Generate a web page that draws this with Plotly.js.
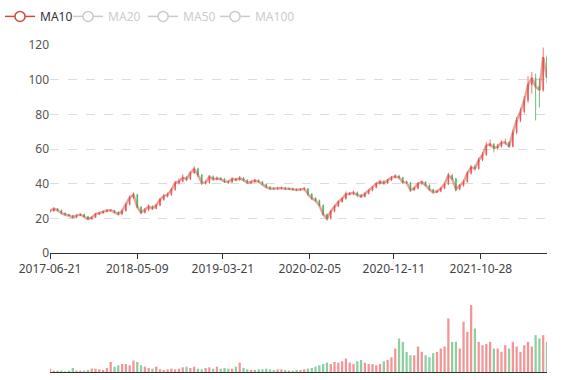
<!DOCTYPE html>
<html>
<head>
<meta charset="utf-8">
<script src="https://cdn.plot.ly/plotly-3.0.1.min.js"></script>
<style>html,body{margin:0;padding:0;background:#fff;}#chart{width:577px;height:380px;}</style>
</head>
<body>
<div id="chart"></div>
<script>
// Bi-weekly bars
var dates = ["2017-06-21","2017-07-05","2017-07-19","2017-08-02","2017-08-16","2017-08-30","2017-09-13","2017-09-27","2017-10-11","2017-10-25",
"2017-11-08","2017-11-22","2017-12-06","2017-12-20","2018-01-03","2018-01-17","2018-01-31","2018-02-14","2018-02-28","2018-03-14",
"2018-03-28","2018-04-11","2018-04-25","2018-05-09","2018-05-23","2018-06-06","2018-06-20","2018-07-04","2018-07-18","2018-08-01",
"2018-08-15","2018-08-29","2018-09-12","2018-09-26","2018-10-10","2018-10-24","2018-11-07","2018-11-21","2018-12-05","2018-12-19",
"2019-01-02","2019-01-16","2019-01-30","2019-02-13","2019-02-27","2019-03-13","2019-03-27","2019-04-10","2019-04-24","2019-05-08",
"2019-05-22","2019-06-05","2019-06-19","2019-07-03","2019-07-17","2019-07-31","2019-08-14","2019-08-28","2019-09-11","2019-09-25",
"2019-10-09","2019-10-23","2019-11-06","2019-11-20","2019-12-04","2019-12-18","2020-01-01","2020-01-15","2020-01-29","2020-02-12",
"2020-02-26","2020-03-11","2020-03-25","2020-04-08","2020-04-22","2020-05-06","2020-05-20","2020-06-03","2020-06-17","2020-07-01",
"2020-07-15","2020-07-29","2020-08-12","2020-08-26","2020-09-09","2020-09-23","2020-10-07","2020-10-21","2020-11-04","2020-11-18",
"2020-12-02","2020-12-16","2020-12-30","2021-01-13","2021-01-27","2021-02-10","2021-02-24","2021-03-10","2021-03-24","2021-04-07",
"2021-04-21","2021-05-05","2021-05-19","2021-06-02","2021-06-16","2021-06-30","2021-07-14","2021-07-28","2021-08-11","2021-08-25",
"2021-09-08","2021-09-22","2021-10-06","2021-10-20","2021-11-03","2021-11-17","2021-12-01","2021-12-15","2021-12-29","2022-01-12",
"2022-01-26","2022-02-09","2022-02-23","2022-03-09","2022-03-23","2022-04-06","2022-04-20","2022-05-04","2022-05-18","2022-06-01",
"2022-06-15","2022-06-29"];

var opens = [23.8,24.2,25.6,24.6,23.0,22.1,21.6,20.6,21.7,22.2,
21.0,19.6,20.5,22.4,23.1,23.9,24.5,24.6,23.6,22.4,
24.3,28.0,32.0,33.6,26.5,23.3,24.8,26.8,25.7,27.5,
30.8,32.8,33.6,36.5,40.5,41.3,43.5,42.6,46.2,48.5,
45.0,40.5,40.6,44.0,42.6,43.0,42.6,41.2,40.9,42.8,
42.2,43.2,42.0,40.6,41.0,41.9,41.1,39.6,38.0,37.1,
37.0,37.3,37.5,37.0,37.0,36.8,36.3,36.7,37.0,34.0,
31.5,30.3,27.5,22.3,19.9,24.0,27.0,29.5,31.3,34.0,
34.2,34.7,33.5,32.5,34.2,36.1,37.8,40.0,41.2,40.2,
42.0,43.5,44.3,43.5,40.8,40.6,36.4,37.3,40.0,41.0,
39.1,36.6,35.0,35.6,37.2,39.8,44.8,42.8,36.8,38.9,
41.0,46.0,49.5,48.8,53.6,56.6,62.0,62.8,60.5,61.4,
63.7,63.8,61.5,69.5,76.5,81.5,88.0,97.0,101.0,96.0,
94.0,113.0];

var closes = [24.2,25.6,24.6,23.0,22.1,21.6,20.6,21.7,22.2,21.0,
19.6,20.5,22.4,23.1,23.9,24.5,24.6,23.6,22.4,24.3,
28.0,32.0,33.6,26.5,23.3,24.8,26.8,25.7,27.5,30.8,
32.8,33.6,36.5,40.5,41.3,43.5,42.6,46.2,48.5,45.0,
40.5,40.6,44.0,42.6,43.0,42.6,41.2,40.9,42.8,42.2,
43.2,42.0,40.6,41.0,41.9,41.1,39.6,38.0,37.1,37.0,
37.3,37.5,37.0,37.0,36.8,36.3,36.7,37.0,34.0,31.5,
30.3,27.5,22.3,19.9,24.0,27.0,29.5,31.3,34.0,34.2,
34.7,33.5,32.5,34.2,36.1,37.8,40.0,41.2,40.2,42.0,
43.5,44.3,43.5,40.8,40.6,36.4,37.3,40.0,41.0,39.1,
36.6,35.0,35.6,37.2,39.8,44.8,42.8,36.8,38.9,41.0,
46.0,49.5,48.8,53.6,56.6,62.0,62.8,60.5,61.4,63.7,
63.8,61.5,69.5,76.5,81.5,88.0,97.0,101.0,96.0,94.0,
113.0,101.0];

var highs = [25.0,26.2,26.0,25.0,23.4,22.6,22.0,22.2,22.8,22.6,
21.3,21.0,22.9,23.7,24.5,25.2,25.4,25.0,24.0,25.0,
29.0,33.2,35.0,34.2,27.0,26.0,28.2,27.5,28.3,31.8,
34.0,34.8,37.5,41.5,43.0,45.5,44.5,47.2,50.0,49.2,
45.6,42.0,45.0,44.8,44.2,43.8,43.2,42.0,43.6,43.5,
44.5,43.8,42.5,41.8,42.6,42.5,41.6,40.0,38.5,37.8,
38.0,38.3,38.0,37.7,37.6,37.3,37.4,38.0,37.5,34.6,
32.2,30.8,28.0,22.8,24.8,27.8,30.3,32.2,35.5,35.2,
36.0,35.5,34.0,35.0,36.8,38.5,40.8,42.0,42.0,42.8,
44.5,45.5,45.2,44.0,41.8,41.0,38.2,41.0,41.8,41.5,
39.6,37.0,36.3,38.0,40.6,46.2,45.5,43.4,39.8,42.0,
47.2,50.8,51.0,55.0,58.2,64.0,65.5,63.5,63.0,65.0,
66.0,64.5,71.0,78.5,83.5,90.5,102.0,104.5,103.5,101.0,
118.5,114.0];

var lows = [23.3,23.8,24.0,22.5,21.6,21.1,20.1,20.2,21.3,20.5,
19.1,19.2,20.2,22.0,22.7,23.5,23.9,23.0,21.8,22.0,
24.0,27.5,31.2,25.8,22.5,22.8,24.3,25.0,25.2,27.0,
30.2,32.0,33.0,36.0,39.5,40.8,41.5,42.0,45.5,44.0,
39.2,39.5,40.0,41.8,42.0,41.8,40.5,40.0,40.4,41.5,
41.8,41.2,39.8,40.0,40.5,40.5,39.0,37.4,36.5,36.4,
36.5,36.8,36.4,36.3,36.1,35.7,35.9,36.2,32.8,30.8,
29.5,26.8,21.5,18.8,19.4,23.5,26.5,29.0,30.8,33.2,
33.5,32.2,31.8,32.0,33.8,35.6,37.3,39.5,39.6,39.8,
41.5,43.0,42.8,40.0,39.8,35.2,35.8,36.8,39.4,38.5,
36.0,34.4,34.5,35.1,36.8,39.2,42.0,35.6,36.2,38.3,
40.5,45.3,47.5,48.0,53.0,56.0,61.0,58.0,59.5,60.8,
62.5,60.5,61.0,68.5,75.5,80.5,86.5,92.0,76.5,84.0,
93.0,98.0];

var volumes = [5,2,2,2,1,2,6,2,2,2,
3,5,5,4,3,6,15,8,10,12,
12,10,17,15,10,8,6,5,8,4,
3,4,5,4,5,7,8,6,8,5,
4,6,7,5,8,5,6,5,5,8,
14,6,4,3,3,4,4,5,4,3,
4,4,3,2,2,3,3,4,5,6,
8,10,12,14,12,15,14,16,20,14,
12,16,18,14,12,12,10,12,16,18,
22,35,50,45,30,25,25,38,30,25,
22,28,30,35,38,80,45,45,35,75,
60,100,65,45,40,42,45,35,35,30,
40,35,45,38,30,40,45,38,55,50,
55,45];

var tickDates = ["2017-06-21","2018-05-09","2019-03-21","2020-02-05","2020-12-11","2021-10-28"];
var maNames = ["MA10","MA20","MA50","MA100"];
var maDays = [10,20,50,100];
var barDays = 10; // trading days covered by one bar

var upColor = "#eb5454", downColor = "#47b262";
var maColor = "#d14a3f";

function movingAverage(days) {
  var w = Math.max(1, Math.round(days / barDays));
  var out = [];
  for (var i = 0; i < closes.length; i++) {
    if (i < w - 1) { out.push(null); continue; }
    var s = 0;
    for (var j = 0; j < w; j++) s += closes[i - j];
    out.push(+(s / w).toFixed(2));
  }
  return out;
}

var volColors = closes.map(function (c, i) { return c >= opens[i] ? upColor : downColor; });

var traces = [{
  type: "candlestick", x: dates, open: opens, high: highs, low: lows, close: closes,
  xaxis: "x", yaxis: "y", showlegend: false, hoverinfo: "skip",
  increasing: {line: {color: upColor, width: 0.8}, fillcolor: upColor},
  decreasing: {line: {color: downColor, width: 0.8}, fillcolor: downColor},
  whiskerwidth: 0
}];

// MA10 line on the chart (its legend entry is the item below)
traces.push({
  type: "scatter", mode: "lines", name: maNames[0], x: dates, y: movingAverage(maDays[0]),
  xaxis: "x", yaxis: "y", hoverinfo: "skip", showlegend: false,
  line: {color: maColor, width: 2.5}, opacity: 0.5
});
traces.push({
  type: "scatter", mode: "lines+markers", name: maNames[0], x: [null], y: [null],
  xaxis: "x", yaxis: "y", hoverinfo: "skip", legend: "legend",
  line: {color: maColor, width: 1.5},
  marker: {symbol: "circle", size: 10, color: "#fff", line: {color: maColor, width: 1.5}}
});
// deselected moving averages
var legendFor = {MA20: "legend2", MA50: "legend2", MA100: "legend3"};
for (var m = 1; m < maNames.length; m++) {
  traces.push({
    type: "scatter", mode: "lines+markers", name: maNames[m], x: dates, y: movingAverage(maDays[m]),
    xaxis: "x", yaxis: "y", hoverinfo: "skip", legend: legendFor[maNames[m]], visible: "legendonly",
    line: {color: "#999", width: 1.5},
    marker: {symbol: "circle", size: 10, color: "#fff", line: {color: "#999", width: 1.5}}
  });
}

traces.push({
  type: "bar", x: dates, y: volumes, xaxis: "x2", yaxis: "y2", showlegend: false, hoverinfo: "skip",
  marker: {color: volColors, opacity: 0.62, line: {width: 0}}
});

var font = "Noto Sans, Microsoft YaHei, sans-serif";
var offLegend = {
  orientation: "h", xref: "container", yref: "container", y: 0.995,
  xanchor: "left", yanchor: "top", font: {size: 12, color: "#999", family: font},
  bgcolor: "rgba(0,0,0,0)", entrywidth: 30
};
var layout = {
  width: 577, height: 380,
  margin: {l: 50, r: 30, t: 45, b: 8},
  paper_bgcolor: "#fff", plot_bgcolor: "#fff",
  font: {family: font, size: 12, color: "#444"},
  boxgap: 0.72,
  bargap: 0.4,
  xaxis: {
    domain: [0, 1], anchor: "y", type: "date",
    range: [dates[0], dates[dates.length - 1]],
    rangeslider: {visible: false},
    tickmode: "array", tickvals: tickDates, ticktext: tickDates,
    ticks: "outside", ticklen: 5, tickcolor: "#333", tickwidth: 1,
    showline: true, linecolor: "#333", linewidth: 1, showgrid: false, zeroline: false,
    tickfont: {size: 12, color: "#444"}
  },
  yaxis: {
    domain: [0.3639, 1], anchor: "x",
    range: [0, 120], dtick: 20, tick0: 0,
    showgrid: true, gridcolor: "#dcdcdc", griddash: "dash", gridwidth: 1,
    zeroline: false, showline: false, ticks: "",
    tickfont: {size: 12, color: "#555"}
  },
  xaxis2: {
    domain: [0, 1], anchor: "y2", matches: "x", type: "date",
    showticklabels: false, ticks: "", showgrid: false, zeroline: false,
    showline: true, linecolor: "#333", linewidth: 1
  },
  yaxis2: {
    domain: [0, 0.2202], anchor: "x2", range: [0, 107.5], visible: false
  },
  legend: {
    orientation: "h", xref: "container", yref: "container", x: 0, y: 0.995,
    xanchor: "left", yanchor: "top", font: {size: 12, color: "#333", family: font},
    bgcolor: "rgba(0,0,0,0)"
  },
  legend2: Object.assign({}, offLegend, {x: 0.118}),
  legend3: Object.assign({}, offLegend, {x: 0.3726, entrywidth: 45})
};

Plotly.newPlot("chart", traces, layout, {staticPlot: true, displayModeBar: false});
</script>
</body>
</html>
